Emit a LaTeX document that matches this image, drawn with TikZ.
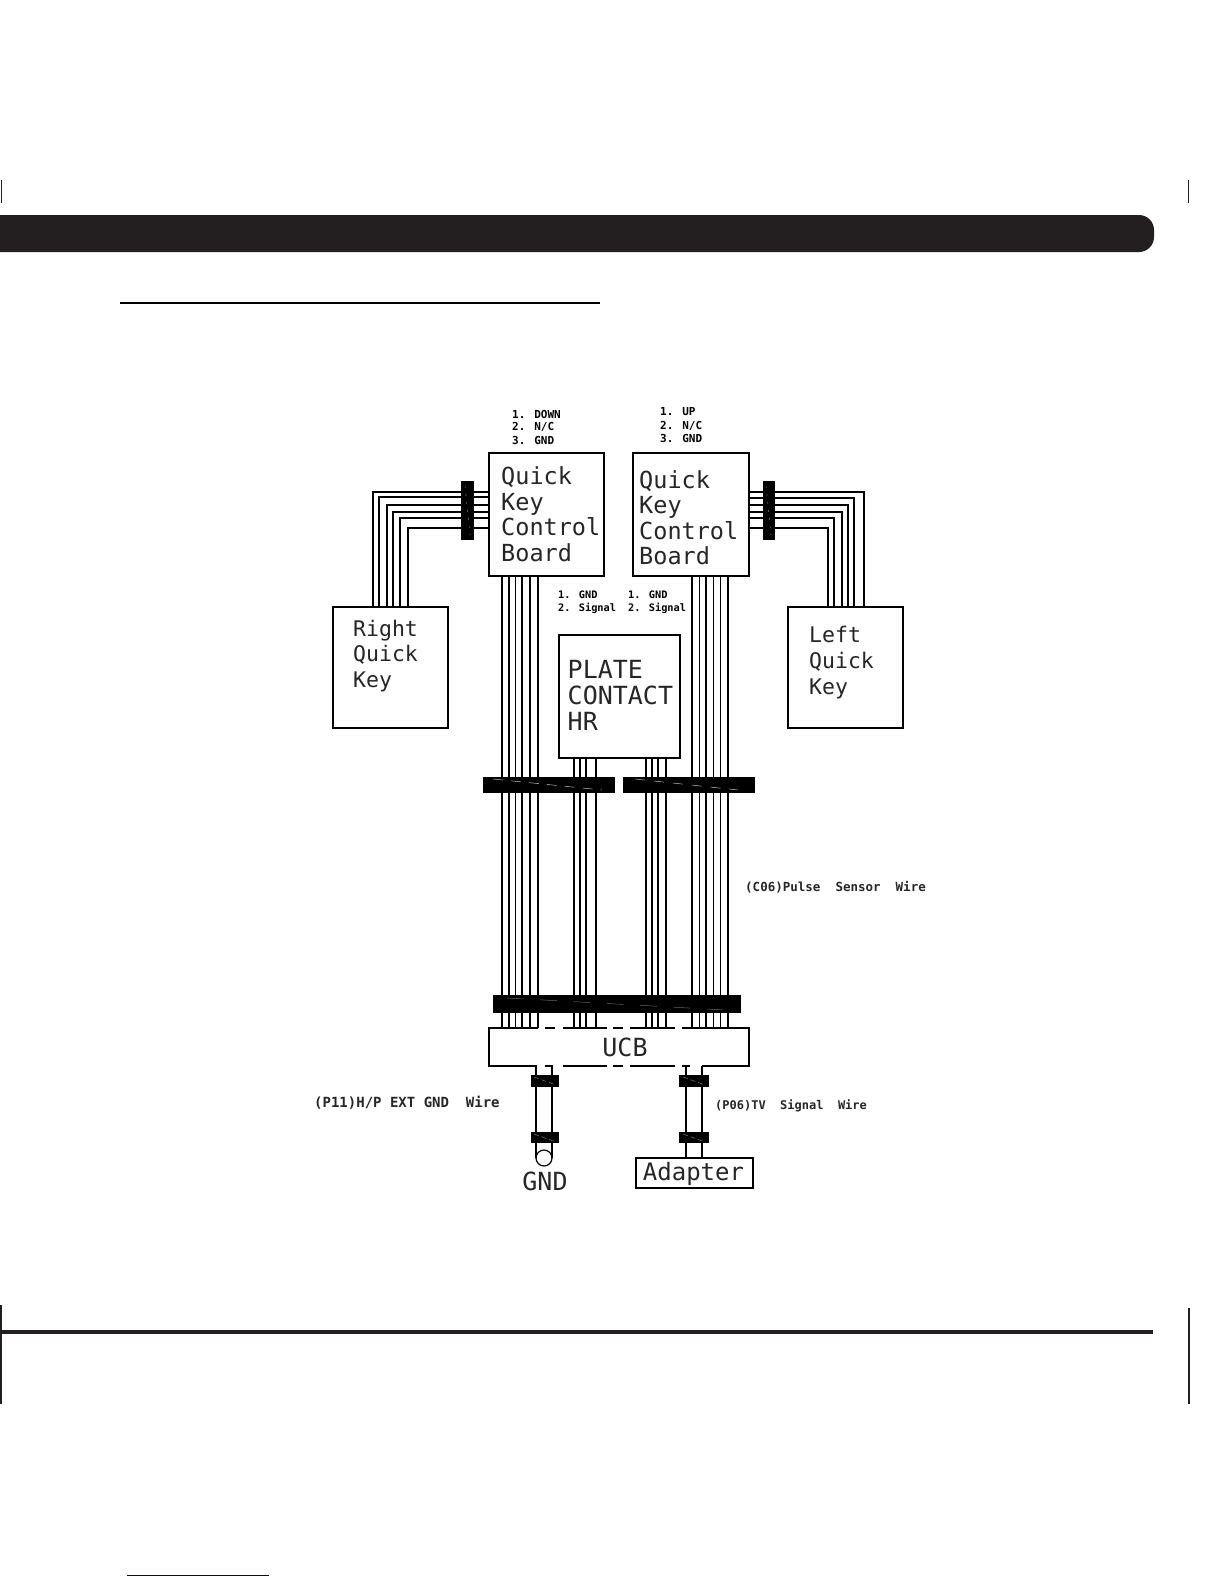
\documentclass[tikz,border=0pt]{standalone}
\usepackage{fontspec}
\setmainfont{DejaVu Sans Mono}
\newcommand{\fsz}[1]{\fontsize{#1}{#1}\selectfont}
\definecolor{inkbar}{HTML}{231F20}
\tikzset{
  boxline/.style={draw=black,line width=1.6pt},
  blockbox/.style={boxline,rectangle,inner sep=0pt,outer sep=0pt,fill=white},
  wire/.style={draw=black,line width=1.7pt},
  clamp/.style={fill=black,draw=none,rectangle,inner sep=0pt,outer sep=0pt},
  clampmark/.style={draw=black!50,line width=.5pt},
  bigtext/.style={anchor=base west,inner sep=0pt,text=black!85,font=\fsz{23.5}},
  sidetext/.style={anchor=base west,inner sep=0pt,text=black!85,font=\fsz{21.5}},
  platetext/.style={anchor=base west,inner sep=0pt,text=black!85,font=\fsz{25}},
  solotext/.style={inner sep=0pt,text=black!85,font=\fsz{25}},
  pintext/.style={anchor=west,inner sep=0pt,font=\bfseries\fsz{11}},
  pinsmall/.style={anchor=west,inner sep=0pt,font=\bfseries\fsz{10.3}},
  wirelabel/.style={anchor=west,inner sep=0pt,text=black!85,font=\bfseries\fsz{12.5}},
  trim/.style={draw=inkbar,line cap=butt}
}
\begin{document}
\begin{tikzpicture}[x=1pt,y=-1pt]
\useasboundingbox (0,0) rectangle (1224,1584);
\fill[white] (0,0) rectangle (1224,1584);
% page furniture
\fill[inkbar] (0,215) [rounded corners=15pt] -- (1154,215) -- (1154,252) [sharp corners] -- (0,252) -- cycle;
\draw[trim,line width=1pt] (1.5,180) -- (1.5,203);
\draw[trim,line width=1pt] (1188.5,180) -- (1188.5,203);
\draw[black,line width=2pt] (120,302.7) -- (600,302.7);
\draw[trim,line width=4pt] (0,1332) -- (1153,1332);
\draw[trim,line width=2pt] (1,1305) -- (1,1404);
\draw[trim,line width=2pt] (1189,1308) -- (1189,1404);
\draw[blue!50!black,line width=1pt] (127,1575) -- (269,1575);

% blocks
\node[blockbox,minimum width=115pt,minimum height=123pt] (qka) at (546.5,514.5) {};
\node[blockbox,minimum width=115.5pt,minimum height=123pt] (qkb) at (691,514.5) {};
\node[blockbox,minimum width=115pt,minimum height=121pt] (rqk) at (390.5,667.5) {};
\node[blockbox,minimum width=115pt,minimum height=121pt] (lqk) at (845.5,667.5) {};
\node[blockbox,minimum width=121pt,minimum height=123pt] (plate) at (619.5,696.5) {};
\node[rectangle,inner sep=0pt,outer sep=0pt,minimum width=260pt,minimum height=38pt] (ucb) at (619,1047) {};
\node[blockbox,minimum width=117pt,minimum height=30pt] (adapter) at (694.5,1173) {};
\node[circle,draw=black,line width=1.2pt,fill=white,inner sep=0pt,minimum size=16pt] (gndc) at (544,1158) {};

% side harnesses
\foreach \i/\x/\y in {1/373/492,2/379/497,3/387/505,4/393/512,5/400/518,6/408/528}{
  \coordinate (lx\i) at (\x,\y);
  \draw[wire] (lx\i -| qka.west) -- (lx\i) -- (lx\i |- rqk.north);
}
\foreach \i/\x/\y in {1/864/492,2/854/498,3/848/505,4/842/512,5/834/518,6/828/528}{
  \coordinate (rx\i) at (\x,\y);
  \draw[wire] (rx\i -| qkb.east) -- (rx\i) -- (rx\i |- lqk.north);
}
% long wires
\foreach \i/\x in {1/502,2/509,3/515.5,4/522,5/530,6/538}{
  \coordinate (da\i) at (\x,0);
  \draw[wire] (da\i |- qka.south) -- (da\i |- ucb.north);
}
\foreach \i/\x in {1/692,2/699.5,3/706,4/713.5,5/720.5,6/728}{
  \coordinate (db\i) at (\x,0);
  \draw[wire] (db\i |- qkb.south) -- (db\i |- ucb.north);
}
\foreach \i/\x in {1/574,2/580,3/586,4/596,5/646,6/652,7/658,8/666}{
  \coordinate (dp\i) at (\x,0);
  \draw[wire] (dp\i |- plate.south) -- (dp\i |- ucb.north);
}
% lower wires
\foreach \i/\x in {1/536,2/552}{
  \coordinate (dg\i) at (\x,0);
  \draw[wire] (dg\i |- ucb.south) -- (dg\i |- gndc.center);
}
\foreach \i/\x in {1/686,2/702}{
  \coordinate (dt\i) at (\x,0);
  \draw[wire] (dt\i |- ucb.south) -- (dt\i |- adapter.north);
}

% UCB outline with its broken edges
\draw[boxline] (538,1028) -- (489,1028) -- (489,1066) -- (537,1066);
\draw[boxline] (692,1028) -- (749,1028) -- (749,1066) -- (702,1066);
\draw[boxline] (545,1028) -- (555,1028) (563,1028) -- (607,1028) (613,1028) -- (623,1028) (630,1028) -- (675,1028) (682,1028) -- (692,1028);
\draw[boxline] (545,1066) -- (553,1066) (563,1066) -- (607,1066) (613,1066) -- (623,1066) (630,1066) -- (675,1066) (682,1066) -- (690,1066);

% clamps
\node[clamp,minimum width=13pt,minimum height=59pt] (csl) at (467.5,510.5) {};
\node[clamp,minimum width=12pt,minimum height=59pt] (csr) at (769,510.5) {};
\node[clamp,minimum width=132pt,minimum height=16pt] (cml) at (549,785) {};
\node[clamp,minimum width=132pt,minimum height=16pt] (cmr) at (689,785) {};
\node[clamp,minimum width=248pt,minimum height=18pt] (cbig) at (617,1004) {};
\node[clamp,minimum width=28pt,minimum height=12pt] (cg1) at (545,1081) {};
\node[clamp,minimum width=28pt,minimum height=11pt] (cg2) at (545,1137.5) {};
\node[clamp,minimum width=30pt,minimum height=12pt] (ct1) at (694,1081) {};
\node[clamp,minimum width=30pt,minimum height=11pt] (ct2) at (694,1137.5) {};
% faint marks inside the clamps
\draw[clampmark,draw=black!25,dash pattern=on 10pt off 8pt] (493,779) -- (602,790);
\draw[clampmark,draw=black!25,dash pattern=on 10pt off 9pt] (635,779) -- (738,790);
\draw[clampmark,draw=black!60,dash pattern=on 17pt off 16.3pt] (507,998) -- (725,1010);
\draw[clampmark,dash pattern=on 5pt off 3pt] (534,1077) -- (556,1085);
\draw[clampmark,dash pattern=on 5pt off 3pt] (534,1134) -- (556,1142);
\draw[clampmark,dash pattern=on 5pt off 3pt] (683,1077) -- (705,1085);
\draw[clampmark,dash pattern=on 5pt off 3pt] (683,1134) -- (705,1142);
\draw[clampmark,dash pattern=on 2pt off 6pt] (465,486) -- (470,535);
\draw[clampmark,dash pattern=on 2pt off 6pt] (766,486) -- (771,535);

% block texts
\node[bigtext] (ta1) at (501,484) {Quick};
\node[bigtext] (ta2) at (501,510) {Key};
\node[bigtext] (ta3) at (501,535) {Control};
\node[bigtext] (ta4) at (501,561) {Board};
\node[bigtext] (tb1) at (639,488) {Quick};
\node[bigtext] (tb2) at (639,513) {Key};
\node[bigtext] (tb3) at (639,539) {Control};
\node[bigtext] (tb4) at (639,564) {Board};
\node[sidetext] (tr1) at (353,636) {Right};
\node[sidetext] (tr2) at (353,661) {Quick};
\node[sidetext] (tr3) at (353,687) {Key};
\node[sidetext] (tl1) at (809,642) {Left};
\node[sidetext] (tl2) at (809,668) {Quick};
\node[sidetext] (tl3) at (809,694) {Key};
\node[platetext] (tp1) at (567.5,678) {PLATE};
\node[platetext] (tp2) at (567.5,704) {CONTACT};
\node[platetext] (tp3) at (567.5,730) {HR};
\node[solotext] (tucb) at (625,1047) {UCB};
\node[solotext] (tgnd) at (545,1181) {GND};
\node[solotext,font=\fsz{24}] (tadp) at (693.5,1174) {Adapter};

% pin lists
\node[pintext] (pa1) at (512,414) {1. DOWN};
\node[pintext] (pa2) at (512,427) {2. N/C};
\node[pintext] (pa3) at (512,440) {3. GND};
\node[pintext] (pb1) at (660,412) {1. UP};
\node[pintext] (pb2) at (660,426) {2. N/C};
\node[pintext] (pb3) at (660,438) {3. GND};
\node[pinsmall] (pc1) at (558,595) {1. GND};
\node[pinsmall] (pc2) at (558,608) {2. Signal};
\node[pinsmall] (pd1) at (628,595) {1. GND};
\node[pinsmall] (pd2) at (628,608) {2. Signal};

% wire labels
\node[wirelabel] (lc) at (745,887) {(C06)Pulse~~Sensor~~Wire};
\node[wirelabel,font=\bfseries\fsz{12}] (lp) at (715,1106) {(P06)TV~~Signal~~Wire};
\node[wirelabel,font=\bfseries\fsz{14}] (lh) at (314,1103) {(P11)H/P EXT GND~~Wire};
\end{tikzpicture}
\end{document}
